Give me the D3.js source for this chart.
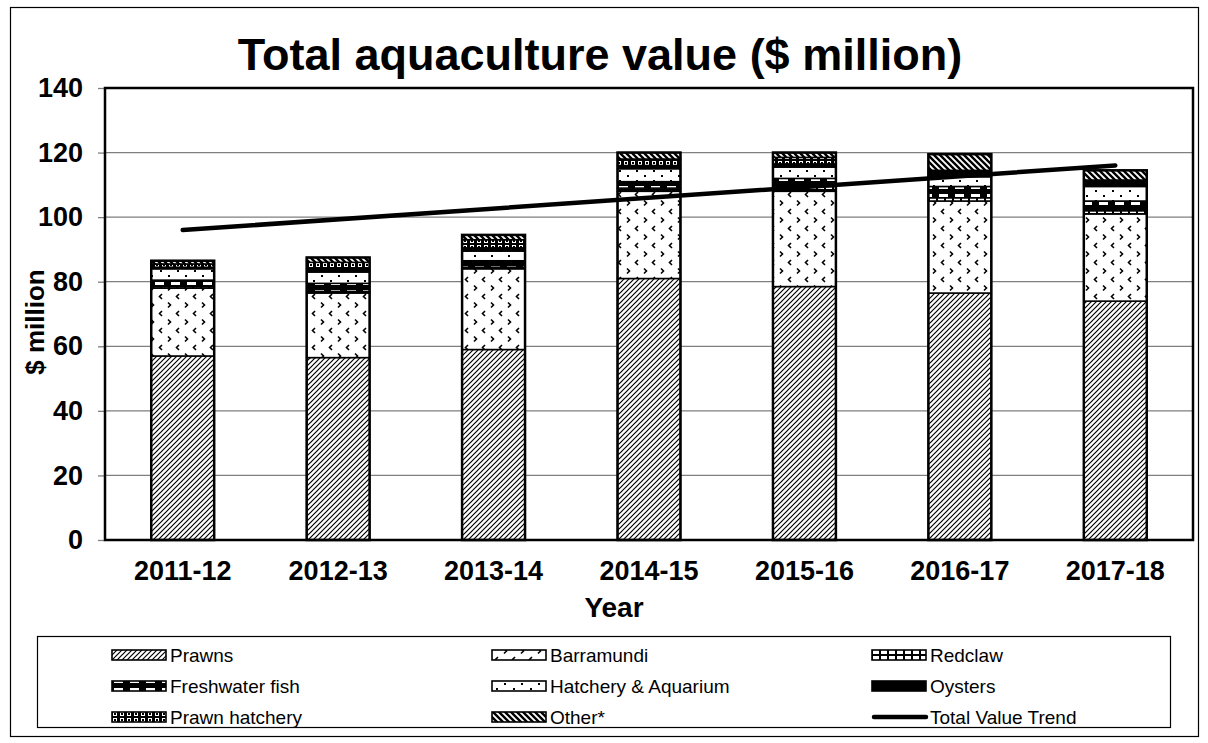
<!DOCTYPE html>
<html>
<head>
<meta charset="utf-8">
<script src="https://cdn.jsdelivr.net/npm/d3@7"></script>
<style>
  body { margin: 0; background: #fff; }
  svg { font-family: Arial, "Liberation Sans", sans-serif; }
</style>
</head>
<body>
<svg id="chart" width="1208" height="743"></svg>
<script>
// Values ($ million).
const years = ["2011-12", "2012-13", "2013-14", "2014-15", "2015-16", "2016-17", "2017-18"];
const seriesNames = ["Prawns", "Barramundi", "Redclaw", "Freshwater fish",
    "Hatchery & Aquarium", "Oysters", "Prawn hatchery", "Other*"];
const prawns      = [57, 56.5, 59, 81, 78.5, 76.5, 74];
const barramundi  = [21, 20, 25, 27, 29.5, 28.5, 27];
const redclaw     = [0.5, 0.5, 0.5, 1, 1.5, 1, 1];
const freshwater  = [2, 2.5, 2, 2, 2.5, 3.5, 3];
const hatchery    = [3.5, 3.5, 3, 4, 3.5, 3, 4.5];
const oysters     = [0.5, 1, 1, 1, 1, 1, 1.5];
const prawnHatch  = [1, 2, 2.5, 2, 2, 1, 0.5];
const other       = [1, 1.5, 1.5, 2, 1.5, 5, 3];
const trendYears  = ["2011-12", "2017-18"];
const trendValues = [96, 116];
const yTicks      = [0, 20, 40, 60, 80, 100, 120, 140];

const seriesValues = [prawns, barramundi, redclaw, freshwater, hatchery, oysters, prawnHatch, other];
const patternIds = ["p-prawns", "p-barra", "p-redclaw", "p-fresh", "p-hatch", "p-oyster", "p-phatch", "p-other"];

// Rows for d3.stack: one object per year.
const rows = years.map((y, i) => {
    const r = { year: y };
    seriesNames.forEach((s, k) => r[s] = seriesValues[k][i]);
    return r;
});

const svg = d3.select("#chart");
const margin = { left: 105, right: 15, top: 88, bottom: 203 };
const width = 1208 - margin.left - margin.right,
    height = 743 - margin.top - margin.bottom;

// Fill patterns, roughly imitating the old Excel hatch patterns.
const defs = svg.append("defs");

function pattern(id, w, h, bg) {
    const p = defs.append("pattern")
        .attr("id", id)
        .attr("patternUnits", "userSpaceOnUse")
        .attr("width", w)
        .attr("height", h);
    p.append("rect").attr("width", w).attr("height", h).attr("fill", bg);
    return p;
}

// Prawns: dense forward diagonal
pattern("p-prawns", 5, 5, "#fff")
    .append("path")
    .attr("d", "M-1,6 L6,-1 M-1,1 L1,-1 M4,6 L6,4")
    .attr("stroke", "#000").attr("stroke-width", 1.2);

// Barramundi: small chevrons in offset rows
const pb = pattern("p-barra", 17, 17, "#fff");
pb.append("path").attr("d", "M6,2 L3.5,4.5 L6,7").attr("stroke", "#000").attr("fill", "none").attr("stroke-width", 1.6);
pb.append("path").attr("d", "M12,10.5 L14.5,13 L12,15.5").attr("stroke", "#000").attr("fill", "none").attr("stroke-width", 1.6);

// Redclaw: black with white bricks
const pr = pattern("p-redclaw", 8, 6, "#000");
pr.append("rect").attr("x", 1).attr("y", 1).attr("width", 6).attr("height", 4).attr("fill", "#fff");

// Freshwater fish: black with white dashes
const pf = pattern("p-fresh", 16, 8, "#000");
pf.append("rect").attr("x", 2).attr("y", 2).attr("width", 9).attr("height", 3).attr("fill", "#fff");

// Hatchery & Aquarium: sparse dots
const ph = pattern("p-hatch", 17, 10, "#fff");
ph.append("rect").attr("x", 4).attr("y", 2).attr("width", 2).attr("height", 2).attr("fill", "#000");
ph.append("rect").attr("x", 12).attr("y", 7).attr("width", 2).attr("height", 2).attr("fill", "#000");

// Oysters: solid black
pattern("p-oyster", 4, 4, "#000");

// Prawn hatchery: black with small white rings
const pp = pattern("p-phatch", 7, 6, "#000");
pp.append("rect").attr("x", 1).attr("y", 1).attr("width", 4).attr("height", 4).attr("fill", "#fff");
pp.append("rect").attr("x", 2).attr("y", 2).attr("width", 2).attr("height", 2).attr("fill", "#000");

// Other*: thick back diagonal
pattern("p-other", 6, 6, "#fff")
    .append("path")
    .attr("d", "M-1,-1 L7,7 M-1,5 L1,7 M5,-1 L7,1")
    .attr("stroke", "#000").attr("stroke-width", 2.4);

// Outer frame
svg.append("rect")
    .attr("x", 10.5).attr("y", 7.5)
    .attr("width", 1188).attr("height", 729)
    .attr("fill", "none").attr("stroke", "#000").attr("stroke-width", 1.2);

const g = svg.append("g").attr("transform", `translate(${margin.left},${margin.top})`);

const x = d3.scaleBand().domain(years).range([0, width]).paddingInner(0.595).paddingOuter(0.2975);
const y = d3.scaleLinear().domain([0, 140]).range([height, 0]);

// Gridlines
g.append("g")
    .selectAll("line")
    .data(yTicks.slice(1, -1))
    .join("line")
    .attr("x1", 0).attr("x2", width)
    .attr("y1", d => y(d)).attr("y2", d => y(d))
    .attr("stroke", "#7f7f7f").attr("stroke-width", 1.3);

const labelFont = "Arial, 'Liberation Sans', sans-serif";

// Y axis
const yAxis = g.append("g")
    .call(d3.axisLeft(y).tickValues(yTicks).tickSize(7).tickPadding(15));
yAxis.select(".domain").remove();
yAxis.selectAll(".tick line").attr("stroke", "#7f7f7f").attr("stroke-width", 1.3);
yAxis.selectAll("text")
    .attr("font-size", 27).attr("font-weight", "bold").attr("fill", "#000")
    .attr("font-family", labelFont);

// X axis
const xAxis = g.append("g")
    .attr("transform", `translate(0,${height})`)
    .call(d3.axisBottom(x).tickSize(0).tickPadding(21));
xAxis.select(".domain").remove();
xAxis.selectAll("text")
    .attr("font-size", 27).attr("font-weight", "bold").attr("fill", "#000")
    .attr("font-family", labelFont);

// Stacked bars
const stack = d3.stack().keys(seriesNames)(rows);
g.append("g")
    .selectAll("g")
    .data(stack)
    .join("g")
    .attr("fill", (d, i) => `url(#${patternIds[i]})`)
    .selectAll("rect")
    .data(d => d)
    .join("rect")
    .attr("x", d => x(d.data.year))
    .attr("width", x.bandwidth())
    .attr("y", d => y(d[1]))
    .attr("height", d => y(d[0]) - y(d[1]))
    .attr("stroke", "#000")
    .attr("stroke-width", 1.5);

// Bar outlines
g.append("g")
    .selectAll("rect")
    .data(rows)
    .join("rect")
    .attr("x", d => x(d.year))
    .attr("width", x.bandwidth())
    .attr("y", d => y(d3.sum(seriesNames, s => d[s])))
    .attr("height", d => height - y(d3.sum(seriesNames, s => d[s])))
    .attr("fill", "none")
    .attr("stroke", "#000")
    .attr("stroke-width", 2.5);

// Trend line
g.append("path")
    .datum(trendYears.map((t, i) => [t, trendValues[i]]))
    .attr("d", d3.line().x(d => x(d[0]) + x.bandwidth() / 2).y(d => y(d[1])))
    .attr("fill", "none")
    .attr("stroke", "#000")
    .attr("stroke-width", 4.5)
    .attr("stroke-linecap", "round");

// Plot frame
g.append("rect")
    .attr("width", width).attr("height", height)
    .attr("fill", "none").attr("stroke", "#000").attr("stroke-width", 2.5);

// Titles
svg.append("text")
    .attr("x", 600).attr("y", 70)
    .attr("text-anchor", "middle")
    .attr("font-size", 45).attr("font-weight", "bold")
    .text("Total aquaculture value ($ million)");

svg.append("text")
    .attr("x", 614).attr("y", 617)
    .attr("text-anchor", "middle")
    .attr("font-size", 28).attr("font-weight", "bold")
    .text("Year");

svg.append("text")
    .attr("transform", `translate(44,${margin.top + height / 2 + 8}) rotate(-90)`)
    .attr("text-anchor", "middle")
    .attr("font-size", 26).attr("font-weight", "bold")
    .text("$ million");

// Legend
const legend = svg.append("g");
legend.append("rect")
    .attr("x", 37.5).attr("y", 636.5)
    .attr("width", 1133).attr("height", 91)
    .attr("fill", "#fff").attr("stroke", "#000").attr("stroke-width", 1.2);

const legendItems = seriesNames.map((s, i) => ({ name: s, fill: `url(#${patternIds[i]})`, line: false }))
    .concat([{ name: "Total Value Trend", line: true }]);
const colX = [112, 492, 872],
    rowY = [655, 686, 717];

const item = legend.selectAll("g.item")
    .data(legendItems)
    .join("g")
    .attr("class", "item")
    .attr("transform", (d, i) => `translate(${colX[i % 3]},${rowY[Math.floor(i / 3)]})`);

item.filter(d => !d.line)
    .append("rect")
    .attr("x", 0).attr("y", -5)
    .attr("width", 54).attr("height", 10)
    .attr("fill", d => d.fill)
    .attr("stroke", "#000").attr("stroke-width", 1.6);

item.filter(d => d.line)
    .append("line")
    .attr("x1", 2).attr("x2", 54)
    .attr("stroke", "#000").attr("stroke-width", 4.5)
    .attr("stroke-linecap", "round");

item.append("text")
    .attr("x", 58).attr("y", 6.5)
    .attr("font-size", 19)
    .text(d => d.name);
</script>
</body>
</html>
